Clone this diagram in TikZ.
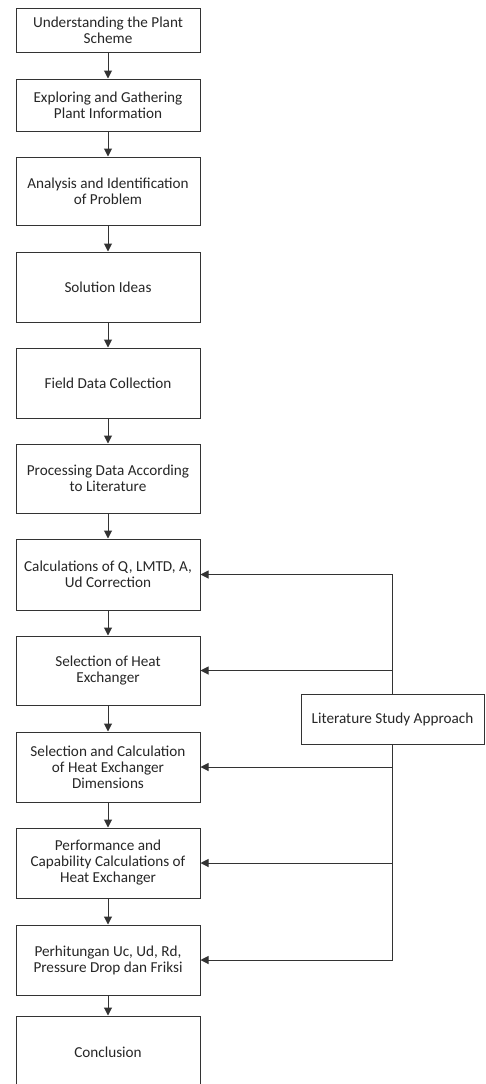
\documentclass[tikz,border=0pt]{standalone}
\usepackage{fontspec}
\setmainfont{Carlito}
\usetikzlibrary{arrows.meta}
\begin{document}
\begin{tikzpicture}[x=1pt,y=-1pt,
    box/.style={draw=black!80, line width=1pt, minimum width=184pt, align=center,
      inner sep=0pt, text=black!85, font=\fontsize{15.2}{16}\selectfont},
    >={Triangle[length=8pt,width=8pt]}]
  \useasboundingbox (0,0) rectangle (485,1084);
  \draw
    (108,30) node[box, minimum height=44pt] (1){Understanding the Plant\\Scheme}
    (108,105) node[box, minimum height=52pt] (2){Exploring and Gathering\\Plant Information}
    (108,191) node[box, minimum height=68pt] (3){Analysis and Identification\\of Problem}
    (108,287) node[box, minimum height=70pt] (4){Solution Ideas}
    (108,383) node[box, minimum height=70pt] (5){Field Data Collection}
    (108,478.5) node[box, minimum height=69pt] (6){Processing Data According\\to Literature}
    (108,574.5) node[box, minimum height=71pt] (7){Calculations of Q, LMTD, A,\\Ud Correction}
    (108,670.5) node[box, minimum height=69pt] (8){Selection of Heat\\Exchanger}
    (108,767) node[box, minimum height=70pt] (9){Selection and Calculation\\of Heat Exchanger\\Dimensions}
    (108,863) node[box, minimum height=70pt] (10){Performance and\\Capability Calculations of\\Heat Exchanger}
    (108,960) node[box, minimum height=70pt] (11){Perhitungan Uc, Ud, Rd,\\Pressure Drop dan Friksi}
    (108,1052) node[box, minimum height=72pt] (12){Conclusion}
    (392.5,719) node[box, minimum width=183pt, minimum height=50pt] (lit){Literature Study Approach};
  \begin{scope}[->, line width=1pt, draw=black!80]
    \draw (1) to (2);
    \draw (2) to (3);
    \draw (3) to (4);
    \draw (4) to (5);
    \draw (5) to (6);
    \draw (6) to (7);
    \draw (7) to (8);
    \draw (8) to (9);
    \draw (9) to (10);
    \draw (10) to (11);
    \draw (11) to (12);
    \draw (lit.north) |- (7.east);
    \draw (lit.north) |- (8.east);
    \draw (lit.south) |- (9.east);
    \draw (lit.south) |- (10.east);
    \draw (lit.south) |- (11.east);
  \end{scope}
\end{tikzpicture}
\end{document}
